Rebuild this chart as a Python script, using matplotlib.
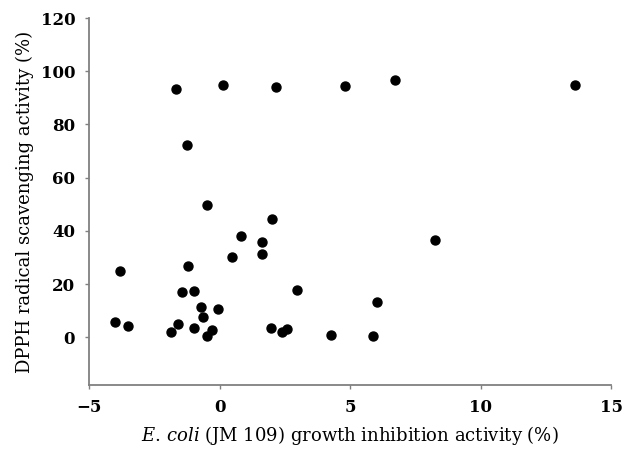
import matplotlib
matplotlib.use('Agg')
import matplotlib.pyplot as plt

plt.rcParams['font.family'] = 'DejaVu Serif'
plt.rcParams['mathtext.fontset'] = 'dejavuserif'

# growth inhibition (%) vs DPPH scavenging (%)
inhibition = [-1.66, 0.14, 2.16, 4.79, -1.24, 6.70, 13.60, 8.25, 6.02, 4.27,
              5.88, -0.47, 2.02, 0.80, 1.61, 1.64, 0.46, -3.83, -1.21, -1.46,
              -1.00, 2.95, -0.73, -0.07, -0.65, -4.01, -3.50, -1.58, -1.00,
              1.98, -1.86, -0.31, -0.47, 2.39, 2.60]
scavenging = [93.2, 94.7, 94.2, 94.5, 72.1, 96.6, 94.7, 36.5, 13.4, 0.9,
              0.4, 49.7, 44.5, 38.1, 35.7, 31.1, 30.2, 24.9, 26.6, 17.0,
              17.2, 17.7, 11.5, 10.6, 7.6, 5.9, 4.1, 5.1, 3.3,
              3.6, 1.8, 2.8, 0.5, 2.1, 2.9]

x_ticks = [-5, 0, 5, 10, 15]
y_ticks = [0, 20, 40, 60, 80, 100, 120]

fig = plt.figure(figsize=(6.32, 4.53), dpi=100)
ax = fig.add_axes([0.141, 0.150, 0.826, 0.810])

ax.scatter(inhibition, scavenging, s=42, color='black', zorder=3)

ax.set_xlim(-5, 15)
ax.set_ylim(-18, 120)
ax.set_xticks(x_ticks)
ax.set_yticks(y_ticks)

for side in ['top', 'right']:
    ax.spines[side].set_visible(False)
for side in ['left', 'bottom']:
    ax.spines[side].set_color('#808080')
    ax.spines[side].set_linewidth(1.3)

ax.tick_params(axis='both', direction='out', length=3, width=1, color='#808080',
               labelsize=12, pad=7)
for lab in ax.get_xticklabels() + ax.get_yticklabels():
    lab.set_fontweight('bold')

ax.set_xlabel(r'$\mathit{E.\,coli}$ (JM 109) growth inhibition activity (%)',
              fontsize=13, labelpad=6)
ax.set_ylabel('DPPH radical scavenging activity (%)', fontsize=13, labelpad=5)

fig.savefig('out.png', dpi=100)
